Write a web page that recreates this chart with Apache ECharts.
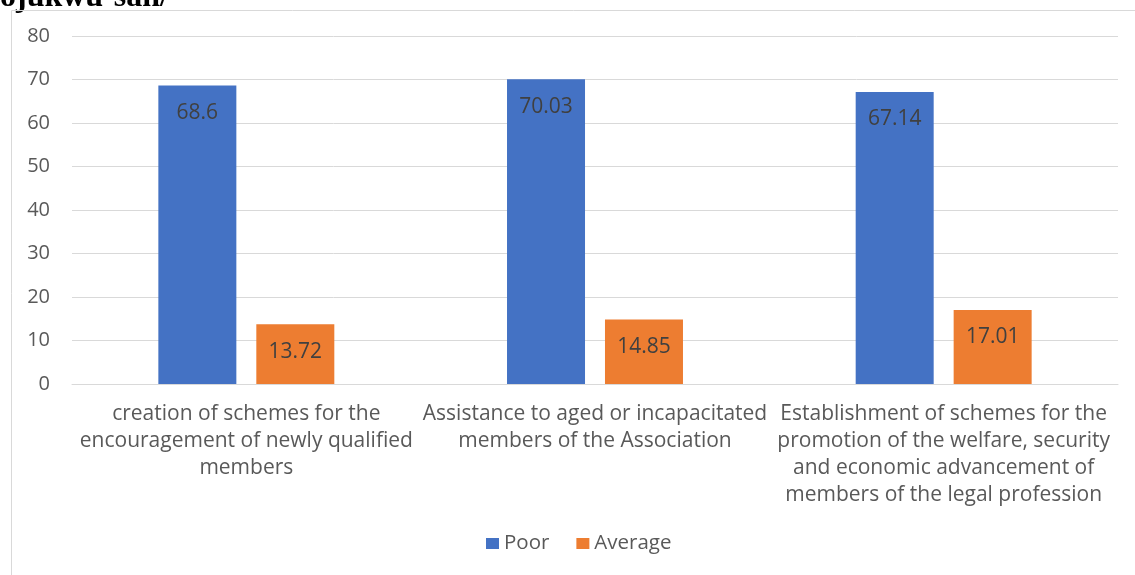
<!DOCTYPE html>
<html><head><meta charset="utf-8">
<script src="https://cdn.jsdelivr.net/npm/echarts@6/dist/echarts.min.js"></script>
<style>html,body{margin:0;padding:0;background:#fff}#c{width:1135px;height:575px}</style>
</head><body><div id="c"></div>
<script>
const categories = [
  "creation of schemes for the\nencouragement of newly qualified\nmembers",
  "Assistance to aged or incapacitated\nmembers of the Association",
  "Establishment of schemes for the\npromotion of the welfare, security\nand economic advancement of\nmembers of the legal profession"
];
const poor = [68.6, 70.03, 67.14];
const average = [13.72, 14.85, 17.01];
const yTicks = {min: 0, max: 80, interval: 10};

const chart = echarts.init(document.getElementById('c'));
const font = "'Open Sans', sans-serif";
chart.setOption({
  animation: false,
  graphic: [
    {type: 'rect', shape: {x: 11.5, y: 10.5, width: 1200, height: 700}, style: {fill: 'none', stroke: '#d9d9d9', lineWidth: 1}},
    {type: 'text', x: 0, y: 14, z: -1, style: {text: 'ojukwu-san/', font: "bold 32px 'Liberation Serif'", fill: '#000', verticalAlign: 'bottom'}}
  ],
  grid: {left: 72, right: 17, top: 36, bottom: 191},
  legend: {
    bottom: 16, left: 481, itemWidth: 13, itemHeight: 11, itemGap: 27,
    icon: 'rect',
    textStyle: {fontFamily: font, fontSize: 20.5, color: '#595959'},
    data: ['Poor', 'Average']
  },
  xAxis: {
    type: 'category', data: categories,
    axisLine: {lineStyle: {color: '#d9d9d9'}}, axisTick: {show: false},
    axisLabel: {interval: 0, margin: 17, fontFamily: font, fontSize: 21, color: '#595959', lineHeight: 27}
  },
  yAxis: {
    type: 'value', min: yTicks.min, max: yTicks.max, interval: yTicks.interval,
    axisLine: {show: false}, axisTick: {show: false},
    splitLine: {lineStyle: {color: '#d9d9d9'}},
    axisLabel: {margin: 22, fontFamily: font, fontSize: 20, color: '#595959'}
  },
  series: [
    {name: 'Poor', type: 'bar', data: poor, barWidth: 78, barGap: '25.6%', itemStyle: {color: '#4472C4'},
     label: {show: true, position: 'insideTop', distance: 17, fontFamily: font, fontSize: 21, color: '#404040'}},
    {name: 'Average', type: 'bar', data: average, barWidth: 78, itemStyle: {color: '#ED7D31'},
     label: {show: true, position: 'insideTop', distance: 17, fontFamily: font, fontSize: 21, color: '#404040'}}
  ]
});
</script></body></html>
